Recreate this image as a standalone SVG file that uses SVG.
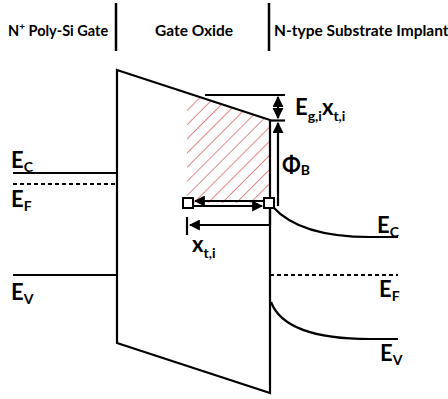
<svg xmlns="http://www.w3.org/2000/svg" width="448" height="399" viewBox="0 0 448 399">
<style>
.ln{stroke:#000;stroke-width:2.2;fill:none}
.dsh{stroke:#000;stroke-width:2;fill:none;stroke-dasharray:4 3}
.hd{font-family:Lato,"Open Sans",sans-serif;font-weight:bold;font-size:15.5px;fill:#000}
.lb{font-family:Lato,"Open Sans",sans-serif;font-weight:bold;font-size:22px;fill:#000}
.sb{font-size:14px}
.box{fill:#fff;stroke:#000;stroke-width:2}
</style>
<defs>
<pattern id="hatch" patternUnits="userSpaceOnUse" width="10" height="10" patternTransform="rotate(45)">
<line x1="0" y1="0" x2="0" y2="10" stroke="#d86060" stroke-width="1.5"/>
</pattern>
<marker id="ah" viewBox="0 0 10 10" refX="9" refY="5" markerWidth="5" markerHeight="5" orient="auto-start-reverse">
<path d="M0,0 L10,5 L0,10 z" fill="#000"/>
</marker>
</defs>
<g id="header">
<text class="hd" x="8" y="36" style="font-size:14.5px">N<tspan font-size="10" dy="-6">+</tspan><tspan dy="6"> Poly-Si Gate</tspan></text>
<text class="hd" x="155" y="36">Gate Oxide</text>
<text class="hd" x="274" y="36">N-type Substrate Implant</text>
<line x1="116" y1="3" x2="116" y2="51" stroke="#000" stroke-width="2.5"/>
<line x1="269" y1="3" x2="269" y2="51" stroke="#000" stroke-width="2.5"/>
</g>
<g id="hatched-region">
<polygon points="187,97 200,97 270,120 270,203 187,203" fill="url(#hatch)"/>
</g>
<g id="oxide">
<polygon points="117,70 270,120 270,393 117,343" class="ln" stroke-width="2.5"/>
</g>
<g id="gate-bands">
<line class="ln" x1="13" y1="173" x2="117" y2="173"/>
<line class="dsh" x1="13" y1="184" x2="117" y2="184"/>
<line class="ln" x1="13" y1="275" x2="117" y2="275"/>
<text class="lb" x="11" y="168">E<tspan class="sb" dy="4">C</tspan></text>
<text class="lb" x="11" y="207">E<tspan class="sb" dy="4">F</tspan></text>
<text class="lb" x="11" y="300">E<tspan class="sb" dy="4">V</tspan></text>
</g>
<g id="substrate-bands">
<path class="ln" d="M273,207 Q300,237 370,237 L398,237"/>
<line class="dsh" x1="270" y1="275" x2="398" y2="275"/>
<path class="ln" d="M271,302 Q285,339 370,339 L398,339"/>
<text class="lb" x="377" y="233">E<tspan class="sb" dy="4">C</tspan></text>
<text class="lb" x="379" y="297">E<tspan class="sb" dy="4">F</tspan></text>
<text class="lb" x="380" y="361">E<tspan class="sb" dy="4">V</tspan></text>
</g>
<g id="connectors">
<line class="ln" x1="205" y1="95" x2="285" y2="95"/>
<line class="ln" x1="278" y1="97" x2="278" y2="118" marker-start="url(#ah)" marker-end="url(#ah)"/>
<line class="ln" x1="270" y1="120.5" x2="285" y2="120.5"/>
<line class="ln" x1="278" y1="206" x2="278" y2="123" marker-end="url(#ah)"/>
<line class="ln" x1="264" y1="201" x2="195" y2="201" marker-end="url(#ah)"/>
<line class="ln" x1="193" y1="206" x2="262" y2="206" marker-end="url(#ah)"/>
<line class="ln" x1="270" y1="209" x2="270" y2="225"/>
<line class="ln" x1="270" y1="225" x2="190" y2="225" marker-end="url(#ah)"/>
<line class="ln" x1="187" y1="217" x2="187" y2="235"/>
</g>
<g id="boxes">
<rect class="box" x="183" y="198" width="10" height="10"/>
<rect class="box" x="264" y="198" width="10" height="10"/>
</g>
<g id="labels">
<text class="lb" x="295" y="115">E<tspan class="sb" dy="6">g,i</tspan><tspan dy="-6">x</tspan><tspan class="sb" dy="6">t,i</tspan></text>
<text class="lb" x="282" y="173">Φ<tspan class="sb" dy="2">B</tspan></text>
<text class="lb" x="192" y="252">x<tspan class="sb" dy="6">t,i</tspan></text>
</g>
</svg>
